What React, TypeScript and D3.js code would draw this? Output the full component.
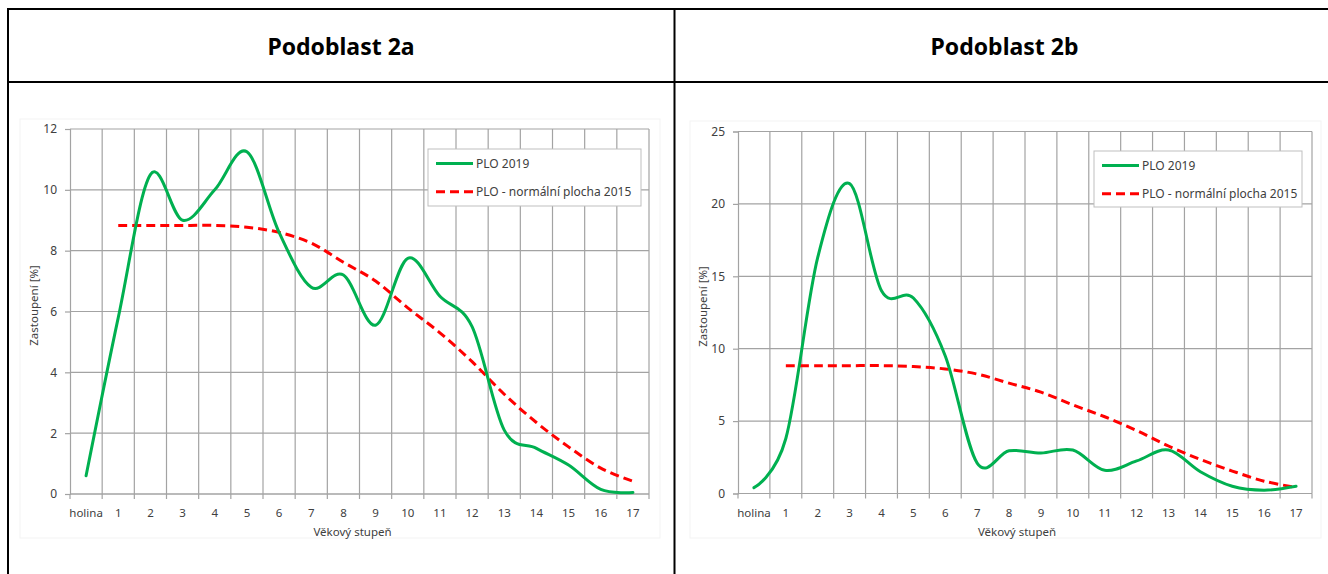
import React, { useEffect, useRef } from 'react'
import * as d3 from 'd3'

// Věkové stupně (age classes)
const categories = ['holina', '1', '2', '3', '4', '5', '6', '7', '8', '9', '10', '11', '12', '13', '14', '15', '16', '17']

// PLO 2019, podoblast 2a [%]
const plo2019A = [0.6, 5.8, 10.5, 9.0, 10.0, 11.25, 8.6, 6.8, 7.2, 5.55, 7.75, 6.5, 5.5, 2.1, 1.5, 0.95, 0.15, 0.05]
// PLO 2019, podoblast 2b [%]
const plo2019B = [0.4, 3.8, 16.3, 21.4, 14.0, 13.5, 9.5, 2.1, 2.95, 2.8, 3.0, 1.6, 2.25, 3.0, 1.5, 0.5, 0.23, 0.5]
// PLO - normální plocha 2015 [%] (no value for holina)
const normal2015: (number | null)[] = [null, 8.83, 8.83, 8.83, 8.83, 8.77, 8.6, 8.25, 7.62, 7.0, 6.12, 5.3, 4.35, 3.28, 2.35, 1.55, 0.85, 0.42]

const yTicksA = [0, 2, 4, 6, 8, 10, 12]
const yTicksB = [0, 5, 10, 15, 20, 25]

const titles = ['Podoblast 2a', 'Podoblast 2b']
const seriesNames = ['PLO 2019', 'PLO - normální plocha 2015']
const xTitle = 'Věkový stupeň'
const yTitle = 'Zastoupení [%]'

const W = 1328
const H = 574
const FONT = '"Noto Sans", sans-serif'
const GREEN = '#00b050'
const RED = '#ff0000'
const GRID = '#a3a3a3'
const TEXT = '#404040'

export default function App() {
  const svgRef = useRef<SVGSVGElement>(null)

  useEffect(() => {
    if (!svgRef.current) return
    const svg = d3.select(svgRef.current)
    svg.selectAll('*').remove()

    svg.append('rect').attr('width', W).attr('height', H).attr('fill', '#fff')

    const panels = [
      {
        title: titles[0], values: plo2019A, ticks: yTicksA, cell: [8, 674],
        plot: { left: 70, right: 649, top: 129, bottom: 494 },
        area: { x: 20, y: 119, w: 640, h: 419 },
        legend: { x: 428, y: 149, w: 213, h: 57 },
        yTitleX: 34, xTitleShift: -7
      },
      {
        title: titles[1], values: plo2019B, ticks: yTicksB, cell: [674, 1335],
        plot: { left: 738, right: 1312, top: 131.5, bottom: 493.5 },
        area: { x: 690, y: 121, w: 631, h: 417 },
        legend: { x: 1094, y: 151, w: 208, h: 56 },
        yTitleX: 703, xTitleShift: -8
      }
    ]

    panels.forEach(p => {
      const g = svg.append('g')

      // Title
      g.append('text')
        .attr('x', (p.cell[0] + p.cell[1]) / 2)
        .attr('y', 47)
        .attr('dy', '0.35em')
        .attr('text-anchor', 'middle')
        .style('font-family', FONT)
        .style('font-weight', '700')
        .style('font-size', '23px')
        .attr('fill', '#000')
        .text(p.title)

      // faint chart area border
      g.append('rect')
        .attr('x', p.area.x).attr('y', p.area.y)
        .attr('width', p.area.w).attr('height', p.area.h)
        .attr('fill', 'none')
        .attr('stroke', '#f3f3f3')

      const x = d3.scaleBand<string>()
        .domain(categories)
        .range([p.plot.left, p.plot.right])
        .paddingInner(0).paddingOuter(0)
      const bw = x.bandwidth()

      const y = d3.scaleLinear()
        .domain([0, p.ticks[p.ticks.length - 1]])
        .range([p.plot.bottom, p.plot.top])

      // horizontal grid
      g.selectAll('.hgrid')
        .data(p.ticks)
        .enter()
        .append('line')
        .attr('x1', p.plot.left)
        .attr('x2', p.plot.right)
        .attr('y1', d => y(d))
        .attr('y2', d => y(d))
        .attr('stroke', GRID)
        .attr('stroke-width', 1.2)

      // vertical grid at category boundaries
      const bounds = d3.range(1, categories.length + 1).map(i => p.plot.left + i * bw)
      g.selectAll('.vgrid')
        .data(bounds)
        .enter()
        .append('line')
        .attr('x1', d => d)
        .attr('x2', d => d)
        .attr('y1', p.plot.top)
        .attr('y2', p.plot.bottom)
        .attr('stroke', GRID)
        .attr('stroke-width', 1.2)

      // y axis
      const yAxis = g.append('g')
        .attr('transform', `translate(${p.plot.left},0)`)
        .call(d3.axisLeft(y).tickValues(p.ticks).tickSize(5).tickPadding(8).tickFormat(d => `${d}`))
      yAxis.select('.domain').attr('stroke', GRID).attr('stroke-width', 1.2)
      yAxis.selectAll('.tick line').attr('stroke', GRID).attr('stroke-width', 1.2)
      yAxis.selectAll('.tick text')
        .attr('fill', TEXT)
        .style('font-family', FONT)
        .style('font-size', '12px')

      // x axis line + ticks between categories
      g.append('line')
        .attr('x1', p.plot.left).attr('x2', p.plot.right)
        .attr('y1', p.plot.bottom).attr('y2', p.plot.bottom)
        .attr('stroke', GRID).attr('stroke-width', 1.2)
      g.selectAll('.xtick')
        .data([p.plot.left, ...bounds])
        .enter()
        .append('line')
        .attr('x1', d => d).attr('x2', d => d)
        .attr('y1', p.plot.bottom).attr('y2', p.plot.bottom + 5)
        .attr('stroke', GRID).attr('stroke-width', 1.2)

      g.selectAll('.xlabel')
        .data(categories)
        .enter()
        .append('text')
        .attr('x', d => (x(d) ?? 0) + bw / 2)
        .attr('y', p.plot.bottom + 19)
        .attr('dy', '0.35em')
        .attr('text-anchor', 'middle')
        .attr('fill', TEXT)
        .style('font-family', FONT)
        .style('font-size', '11.5px')
        .text(d => d)

      // axis titles
      g.append('text')
        .attr('x', (p.plot.left + p.plot.right) / 2 + p.xTitleShift)
        .attr('y', p.plot.bottom + 38)
        .attr('dy', '0.35em')
        .attr('text-anchor', 'middle')
        .attr('fill', TEXT)
        .style('font-family', FONT)
        .style('font-size', '11.5px')
        .text(xTitle)

      g.append('text')
        .attr('transform', `translate(${p.yTitleX},${(p.plot.top + p.plot.bottom) / 2 - 6}) rotate(-90)`)
        .attr('dy', '0.35em')
        .attr('text-anchor', 'middle')
        .attr('fill', TEXT)
        .style('font-family', FONT)
        .style('font-size', '11.5px')
        .text(yTitle)

      // lines
      const line = d3.line<number | null>()
        .defined(d => d != null)
        .x((_, i) => (x(categories[i]) ?? 0) + bw / 2)
        .y(d => y(d as number))
        .curve(d3.curveCatmullRom.alpha(0))

      g.append('path')
        .attr('d', line(normal2015) || '')
        .attr('fill', 'none')
        .attr('stroke', RED)
        .attr('stroke-width', 3)
        .attr('stroke-dasharray', '9,5')

      g.append('path')
        .attr('d', line(p.values) || '')
        .attr('fill', 'none')
        .attr('stroke', GREEN)
        .attr('stroke-width', 3)
        .attr('stroke-linecap', 'round')

      // legend
      const lg = g.append('g').attr('transform', `translate(${p.legend.x},${p.legend.y})`)
      lg.append('rect')
        .attr('width', p.legend.w).attr('height', p.legend.h)
        .attr('fill', '#fff')
        .attr('stroke', '#bfbfbf')
      seriesNames.forEach((name, i) => {
        const ly = 14.5 + i * 28.2
        lg.append('line')
          .attr('x1', 8).attr('x2', 45)
          .attr('y1', ly).attr('y2', ly)
          .attr('stroke', i === 0 ? GREEN : RED)
          .attr('stroke-width', 3)
          .attr('stroke-dasharray', i === 0 ? null : '9,5')
        lg.append('text')
          .attr('x', 48)
          .attr('y', ly)
          .attr('dy', '0.35em')
          .attr('fill', TEXT)
          .style('font-family', FONT)
          .style('font-size', '12px')
          .text(name)
      })
    })

    // table lines
    const tbl = svg.append('g').attr('stroke', '#000').attr('stroke-width', 2)
    tbl.append('line').attr('x1', 7).attr('x2', W).attr('y1', 9).attr('y2', 9)
    tbl.append('line').attr('x1', 7).attr('x2', W).attr('y1', 82).attr('y2', 82)
    tbl.append('line').attr('x1', 8).attr('x2', 8).attr('y1', 8).attr('y2', H)
    tbl.append('line').attr('x1', 674.5).attr('x2', 674.5).attr('y1', 8).attr('y2', H)
  }, [])

  return (
    <svg
      ref={svgRef}
      width={W}
      height={H}
      style={{ position: 'absolute', left: 0, top: 0 }}
    />
  )
}
